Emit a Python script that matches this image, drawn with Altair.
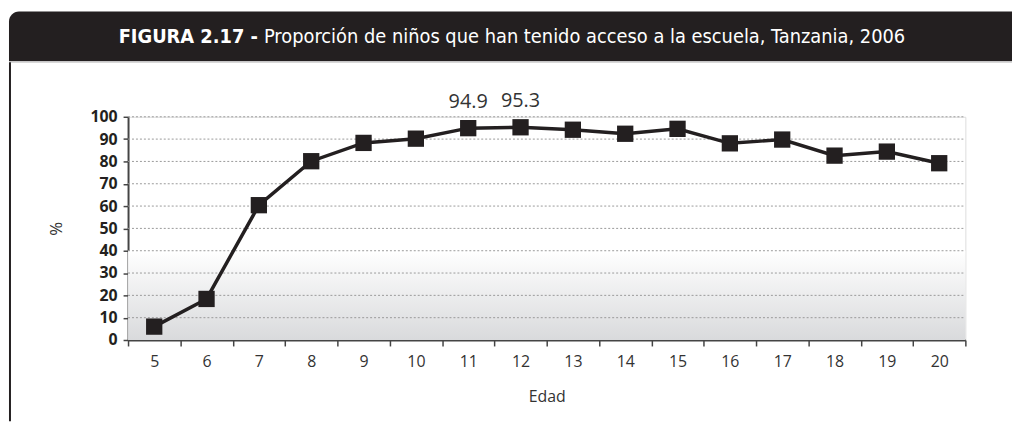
import altair as alt
import pandas as pd

# ---- data ----
ages = ["5", "6", "7", "8", "9", "10", "11", "12", "13", "14", "15", "16", "17", "18", "19", "20"]
values = [6.0, 18.4, 60.4, 80.1, 88.3, 90.2, 94.9, 95.3, 94.2, 92.4, 94.6, 88.1, 89.8, 82.6, 84.4, 79.2]
labelled_ages = ["11", "12"]
y_ticks = [0, 10, 20, 30, 40, 50, 60, 70, 80, 90, 100]
shade_top = [40]

title_bold = "FIGURA 2.17 -"
title_rest = "Proporción de niños que han tenido acceso a la escuela, Tanzania, 2006"
x_title = "Edad"
y_title = "%"

# ---- styling ----
W, H = 844, 225
INK = "#231f20"
FONT = "Open Sans"
TFONT = "DejaVu Sans Condensed, Roboto"

df = pd.DataFrame({"age": ages, "value": values})
df["label"] = [f"{v:.1f}" if a in labelled_ages else "" for a, v in zip(ages, values)]
lab_df = df[df["age"].isin(labelled_ages)]

x_scale = alt.Scale(type="band", paddingInner=0, paddingOuter=0, domain=ages)
y_scale = alt.Scale(domain=[0, 100], nice=False, zero=True)

x_axis = alt.Axis(
    title=x_title, tickBand="extent", labelAngle=0, grid=False,
    domainColor="#444", domainWidth=2, tickColor="#444", tickWidth=1.5, tickSize=6,
    labelFont=FONT, labelFontSize=16, labelColor="#333", labelPadding=8,
    titleFont=FONT, titleFontSize=16, titleFontWeight="normal", titleColor="#333",
    titleX=W / 2, titleY=57, titleBaseline="middle", titleAlign="center",
)
y_axis = alt.Axis(
    title=y_title, values=y_ticks, grid=False,
    domainColor="#444", domainWidth=2, tickColor="#444", tickWidth=1.5, tickSize=5,
    labelFont=FONT, labelFontSize=16, labelFontWeight="bold", labelColor=INK, labelPadding=6,
    titleFont=FONT, titleFontSize=17, titleFontWeight="normal", titleColor="#333",
    titleX=-72, titleY=H / 2, titleBaseline="middle", titleAlign="center", titleAngle=-90,
)

X = alt.X("age:O", sort=ages, scale=x_scale, bandPosition=0.5, axis=x_axis)
Y = alt.Y("value:Q", scale=y_scale, axis=y_axis)

one = alt.Data(values=[{}])

# shaded gradient in lower part of the plot
shade = alt.Chart(pd.DataFrame({"top": shade_top})).mark_rect(
    color=alt.LinearGradient(
        gradient="linear", x1=0, y1=0, x2=0, y2=1,
        stops=[alt.GradientStop(color="#ffffff", offset=0),
               alt.GradientStop(color="#d9dadc", offset=1)],
    )
).encode(x=alt.value(0), x2=alt.value(W), y=alt.Y("top:Q", scale=y_scale, axis=y_axis), y2=alt.datum(0))

grid = alt.Chart(pd.DataFrame({"t": y_ticks[1:]})).mark_rule(
    color="#9a9a9a", strokeWidth=1, strokeDash=[2, 2]
).encode(y=alt.Y("t:Q", scale=y_scale, axis=y_axis), x=alt.value(0), x2=alt.value(W))

base = alt.Chart(df)
line = base.mark_line(color=INK, strokeWidth=3.5).encode(x=X, y=Y)
pts = base.mark_point(shape="square", filled=True, size=270, color=INK, opacity=1).encode(x=X, y=Y)
labels = alt.Chart(lab_df).mark_text(
    font=FONT, fontSize=20, color="#333", dy=-26, baseline="middle"
).encode(x=X, y=Y, text="label:N")

# title band and frame
bar = alt.Chart(one).mark_rect(color=INK, cornerRadiusTopLeft=10).encode(
    x=alt.value(-120), x2=alt.value(891), y=alt.value(-106), y2=alt.value(-56)
)
topline = alt.Chart(one).mark_rule(color="#c8c8c8", strokeWidth=1).encode(
    x=alt.value(-120), x2=alt.value(891), y=alt.value(-55)
)
border = alt.Chart(one).mark_rule(color=INK, strokeWidth=2).encode(
    x=alt.value(-119), y=alt.value(-55), y2=alt.value(307)
)
t1 = alt.Chart(one).mark_text(
    text=title_bold, font=TFONT, fontSize=20, fontWeight="bold", color="white",
    align="right", baseline="middle"
).encode(x=alt.value(131), y=alt.value(-80))
t2 = alt.Chart(one).mark_text(
    text=title_rest, font=TFONT, fontSize=20, color="white",
    align="left", baseline="middle"
).encode(x=alt.value(137), y=alt.value(-80))

chart = alt.layer(shade, grid, line, pts, labels, bar, topline, border, t1, t2).properties(
    width=W, height=H,
    autosize=alt.AutoSizeParams(type="none"),
    padding={"left": 121, "top": 108, "right": 47, "bottom": 82},
).configure_view(stroke=None).configure(background="white")

chart.save("out.html", embed_options={"renderer": "svg", "actions": False})
